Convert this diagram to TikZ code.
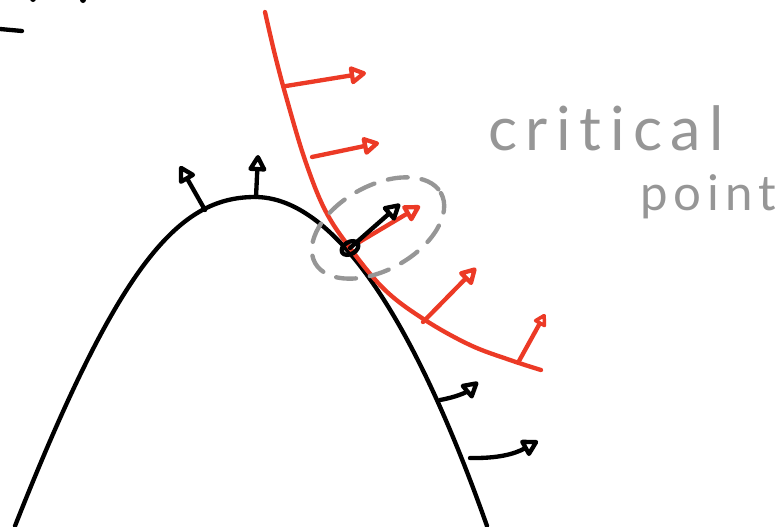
\documentclass[tikz,border=0pt]{standalone}
\usepackage{fontspec}
\usepackage{tikz}
\usetikzlibrary{arrows.meta, calc}
\newfontfamily\handfont[LetterSpace=14, Ligatures=NoCommon]{Lato}
\newfontfamily\handfonttight[LetterSpace=12, Ligatures=NoCommon]{Lato}
\definecolor{sketchred}{RGB}{236, 58, 38}
\definecolor{sketchgray}{RGB}{150, 150, 150}

\begin{document}
\begin{tikzpicture}[
    x=0.03cm, y=-0.03cm,
    ink/.style={line width=3.7pt, line cap=round, line join=round},
    normal/.style={ink, -{Triangle[open, length=16pt, width=17pt, round]}},
    smallnormal/.style={ink, -{Triangle[open, length=12pt, width=13pt, round]}},
    label/.style={text=sketchgray, anchor=base west, inner sep=0pt},
  ]
    \useasboundingbox (0,0) rectangle (783,526);

    % surface
    \draw[ink] (15,526) .. controls (120,260) and (180,197) .. (255,197)
      .. controls (320,197) and (400,280) .. (487,526);
    \draw[ink] (0,29) -- (22,31);
    \fill (33,-1) circle (3);
    \fill (83,0) circle (3);

    % red path
    \draw[ink, sketchred] plot[smooth, tension=0.6] coordinates {(265,12) (275,55) (287,100) (305,160)
      (325,210) (350,248) (385,290) (425,320) (470,345) (510,360) (541,370)};

    % black normals
    \coordinate (b1) at (205,210);  \coordinate (b1t) at (180,166);
    \coordinate (b2) at (256,197);  \coordinate (b2t) at (258,155);
    \coordinate (b3) at (350,248);  \coordinate (b3t) at (400,204);
    \coordinate (b4) at (440,400);  \coordinate (b4t) at (478,382);
    \coordinate (b5) at (470,458);  \coordinate (b5t) at (538,441);
    \draw[normal] (b1) -- (b1t);
    \draw[normal] (b2) -- (b2t);
    \draw[normal] (b4) to[bend right=15] (b4t);
    \draw[normal] (b5) to[bend right=15] (b5t);

    % red normals
    \coordinate (r1) at (286,86);   \coordinate (r1t) at (366,73);
    \coordinate (r2) at (312,157);  \coordinate (r2t) at (379,143);
    \coordinate (r3) at (356,244);  \coordinate (r3t) at (420,206);
    \coordinate (r4) at (423,322);  \coordinate (r4t) at (476,268);
    \coordinate (r5) at (519,361);  \coordinate (r5t) at (545,314);
    \draw[normal, sketchred] (r1) -- (r1t);
    \draw[normal, sketchred] (r2) -- (r2t);
    \draw[normal, sketchred] (r3) -- (r3t);
    \draw[normal, sketchred] (r4) -- (r4t);
    \draw[smallnormal, sketchred] (r5) -- (r5t);

    % critical point
    \draw[normal] (b3) -- (b3t);
    \draw[ink, rotate around={30:(b3)}] (b3) ellipse [x radius=9, y radius=6];
    \draw[ink, sketchgray, dash pattern=on 17pt off 12pt, rotate around={29:(378,228)}]
      (378,228) ellipse [x radius=72, y radius=42];

    \node[label, font=\handfont\fontsize{52}{52}\selectfont] (crit) at (488,150) {critical};
    \node[label, font=\handfonttight\fontsize{42}{42}\selectfont] (pt) at (640,210) {point};
  \end{tikzpicture}
\end{document}
